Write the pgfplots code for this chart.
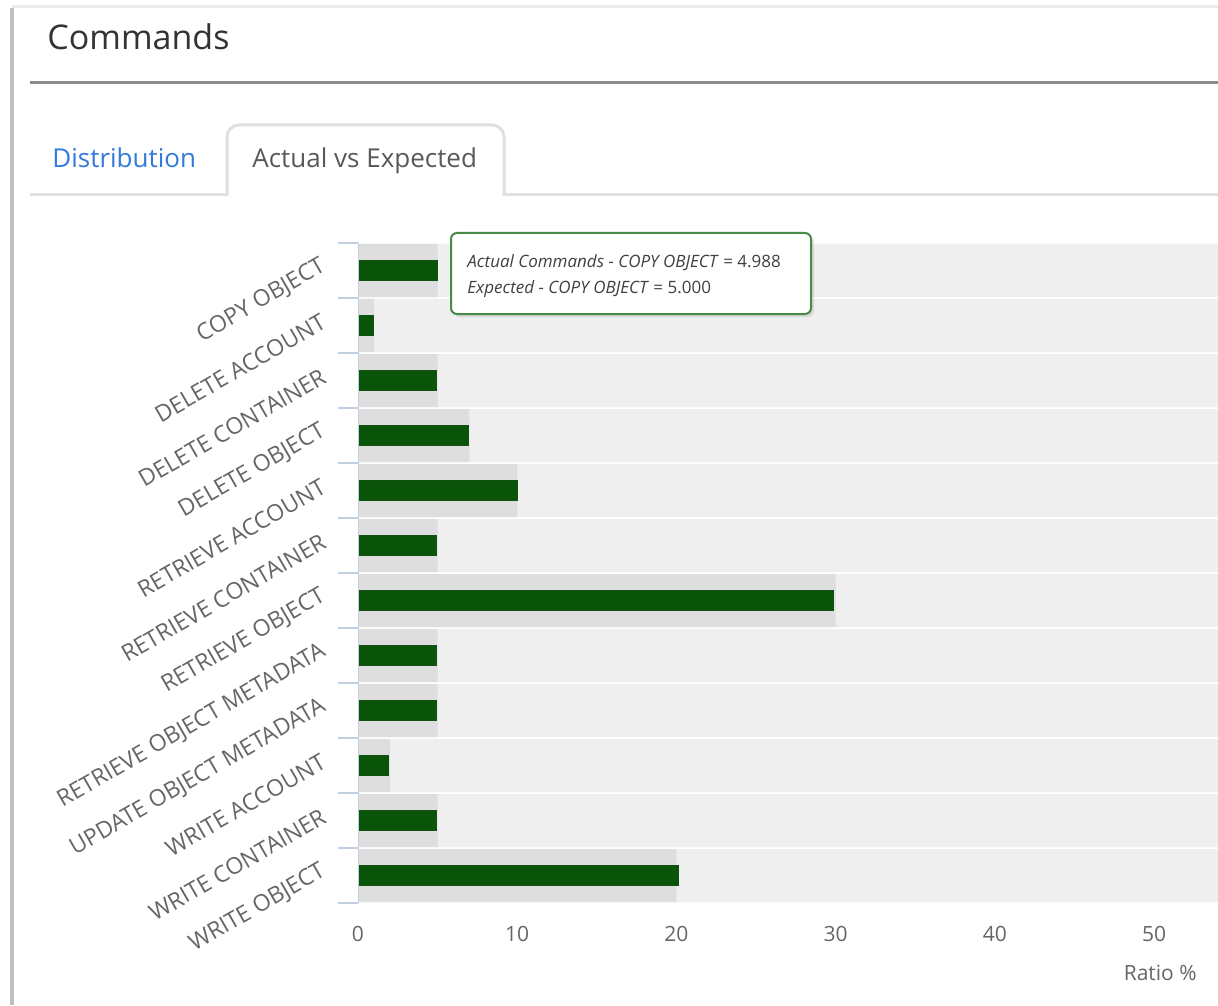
\documentclass[border=0pt]{standalone}
\usepackage{fontspec}
\setmainfont{Open Sans}
\usepackage{pgfplots}
\pgfplotsset{compat=1.18}
\usepackage{pgfplotstable}
\usetikzlibrary{shadows}
\definecolor{band}{RGB}{239,239,239}
\definecolor{expc}{RGB}{222,222,222}
\definecolor{actc}{RGB}{9,84,9}
\definecolor{actd}{RGB}{20,80,20}
\definecolor{axisc}{RGB}{192,208,224}
\definecolor{labc}{RGB}{102,102,102}
\definecolor{titc}{RGB}{51,51,51}
\definecolor{tabblue}{RGB}{51,122,220}
\definecolor{tipb}{RGB}{70,140,70}

\pgfplotstableread{
idx band expected actual
0 60 5 4.988
1 60 1 0.95
2 60 5 4.95
3 60 7 6.95
4 60 10 10.0
5 60 5 4.95
6 60 30 29.85
7 60 5 4.95
8 60 5 4.95
9 60 2 1.9
10 60 5 4.95
11 60 20 20.1
}\cmdtable

\begin{document}
\begin{tikzpicture}[x=0.5pt,y=-0.5pt]
\path[use as bounding box] (0,0) rectangle (1218,1005);
\fill[white] (0,0) rectangle (1218,1005);
% frame
\draw[black!25, line width=2] (12,8) -- (12,1005);
\draw[black!8, line width=1.5] (12,7) -- (1218,7);
\node[anchor=base west, font=\fontsize{17}{20}\selectfont, text=titc, inner sep=0] at (47,50) {Commands};
\draw[black!45, line width=1.5] (30,83) -- (1218,83);
% tabs
\draw[black!12, line width=1.5] (30,195) -- (227,195);
\draw[black!12, line width=1.5] (504,195) -- (1218,195);
\draw[black!12, line width=1.5, fill=white, rounded corners=6] (227,196) -- (227,125) -- (504,125) -- (504,196);
\node[anchor=base west, font=\fontsize{13}{16}\selectfont, text=tabblue, inner sep=0] at (52,168) {Distribution};
\node[anchor=base west, font=\fontsize{13}{16}\selectfont, text=black!65, inner sep=0] at (252,168) {Actual vs Expected};

\begin{axis}[
 at={(179pt,-451.5pt)}, anchor=south west,
 scale only axis, width=430pt, height=330pt,
 xmin=0, xmax=54.02, ymin=-0.5, ymax=11.5, y dir=reverse,
 axis line style={draw=none},
 xtick={0,10,...,50}, ytick={0,...,11},
 yticklabels={COPY OBJECT,DELETE ACCOUNT,DELETE CONTAINER,DELETE OBJECT,RETRIEVE ACCOUNT,RETRIEVE CONTAINER,RETRIEVE OBJECT,RETRIEVE OBJECT METADATA,UPDATE OBJECT METADATA,WRITE ACCOUNT,WRITE CONTAINER,WRITE OBJECT},
 minor ytick={-0.5,0.5,...,11.5},
 major tick length=0pt, minor tick length=10pt, tick align=outside,
 ytick pos=left, xtick pos=bottom,
 minor tick style={axisc, line width=1pt},
 tick label style={font=\fontsize{10.5}{12}\selectfont, text=labc},
 yticklabel style={rotate=30, anchor=east, xshift=-10pt, yshift=11pt, font=\fontsize{11.5}{13}\selectfont},
 xticklabel style={yshift=-8pt},
 /pgf/number format/assume math mode=true,
]
\addplot[xbar, bar shift=0pt, bar width=0.964, fill=band, draw=none] table[x=band, y=idx]{\cmdtable};
\addplot[xbar, bar shift=0pt, bar width=0.964, fill=expc, draw=none] table[x=expected, y=idx]{\cmdtable};
\addplot[xbar, bar shift=0pt, bar width=0.364, fill=actc, draw=actd, line width=0.5pt] table[x=actual, y=idx]{\cmdtable};
\draw[axisc, line width=1pt] (axis cs:0,-0.5) -- (axis cs:0,11.5);
\end{axis}

% tooltip
\node[draw=tipb, line width=1pt, fill=white, rounded corners=3pt, drop shadow={opacity=0.2, shadow xshift=1.5pt, shadow yshift=-1.5pt}, minimum width=180pt, minimum height=40.5pt, anchor=north west, inner sep=0] at (450,232) {};
\node[anchor=base west, inner sep=0, font=\fontsize{8.5}{10}\selectfont, text=black!75] at (467,268) {\textit{Actual Commands - COPY OBJECT} = 4.988};
\node[anchor=base west, inner sep=0, font=\fontsize{8.5}{10}\selectfont, text=black!75] at (467,293) {\textit{Expected - COPY OBJECT} = 5.000};

\node[anchor=base east, font=\fontsize{10.5}{12}\selectfont, text=labc, inner sep=0] at (1197,980) {Ratio \%};
\end{tikzpicture}
\end{document}
